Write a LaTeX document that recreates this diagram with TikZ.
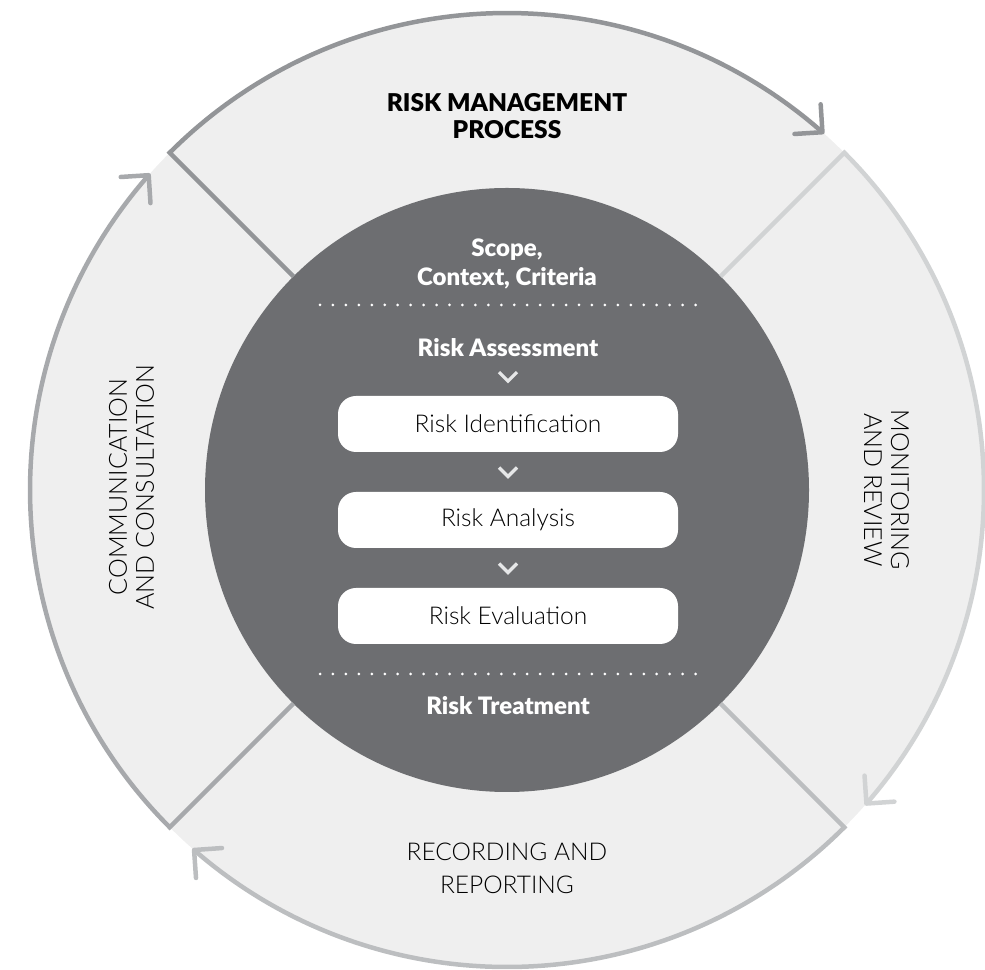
\documentclass[tikz,border=0pt]{standalone}
\usepackage{fontspec}
\setmainfont{Lato}
\IfFontExistsTF{Lato Light}{\newfontfamily\lightf{Lato Light}}{\newfontfamily\lightf{Lato}}
\IfFontExistsTF{Lato Black}{\newfontfamily\blackf{Lato Black}}{\newfontfamily\blackf{Lato}[UprightFont=*-Bold]}
\usetikzlibrary{calc}
\definecolor{ringfill}{HTML}{EFEFEF}
\definecolor{core}{HTML}{6D6E71}
\definecolor{ctop}{HTML}{939598}
\definecolor{cleft}{HTML}{A7A9AC}
\definecolor{cbot}{HTML}{BCBEC0}
\definecolor{cright}{HTML}{D1D3D4}
\definecolor{chevc}{HTML}{E6E7E8}
\tikzset{
  segline/.style={line width=4.5pt, line join=miter},
  tipline/.style={line width=4.5pt, line cap=round, line join=round},
  stepbox/.style={fill=white, rounded corners=18pt, minimum width=340pt, minimum height=56pt, inner sep=0pt,
    font=\lightf\fontsize{24.5}{28}\selectfont, text=black},
  corehead/.style={text=white, font=\blackf\fontsize{24}{29}\selectfont, align=center, inner sep=0pt},
  ringlabel/.style={text=black, font=\lightf\fontsize{25}{27}\selectfont, align=center, inner sep=0pt},
  dotline/.style={white, line width=3pt, line cap=round, dash pattern=on 0pt off 12.95pt},
  chev/.style={chevc, line width=3.2pt, line cap=butt, line join=miter}
}
\newcommand\ringseg[3]{% color, start angle, end angle
  \draw[segline,#1] ($(C)+(#2:302)$) -- ($(C)+(#2:477)$) arc[start angle=#2, end angle=#3, radius=477];
}
\newcommand\ringtip[4]{% color, tip angle, arm1 angle, arm2 angle
  \draw[tipline,#1] ($(C)+(#2:477)+(#3:28)$) -- ($(C)+(#2:477)$) -- ($(C)+(#2:477)+(#4:28)$);
}
\begin{document}
\begin{tikzpicture}[x=1pt,y=1pt]
\useasboundingbox (0,0) rectangle (985,969);
\coordinate (C) at (507,479);
\fill[ringfill] (C) circle[radius=477];
\fill[core] (C) circle[radius=302];
% ring segments
\ringseg{ctop}{135}{48.6}
\ringtip{ctop}{48.6}{93.6}{183.6}
\ringseg{cright}{45}{-41.1}
\ringtip{cright}{-41.1}{3.9}{93.9}
\ringseg{cbot}{-45}{-131}
\ringtip{cbot}{-131}{-86}{4}
\ringseg{cleft}{-135}{-221.3}
\ringtip{cleft}{138.7}{183.7}{273.7}
% ring labels
\node[text=black, font=\blackf\fontsize{24.5}{27}\selectfont, align=center, inner sep=0pt] (title) at (507,853) {RISK MANAGEMENT\\PROCESS};
\node[ringlabel, rotate=90] (comm) at (131.5,482) {COMMUNICATION\\AND CONSULTATION};
\node[ringlabel, rotate=-90] (mon) at (886.5,479) {MONITORING\\AND REVIEW};
\node[ringlabel, font=\lightf\fontsize{24.5}{33}\selectfont] (rec) at (507,100.5) {RECORDING AND\\REPORTING};
% core
\node[corehead] (scope) at (507,705.5) {Scope,\\Context, Criteria};
\coordinate (d1a) at (320,664);
\coordinate (d1b) at (699,664);
\draw[dotline] (d1a) -- (d1b);
\node[corehead] (assess) at (508,621) {Risk Assessment};
\node[stepbox] (ident) at (508,545) {Risk Identification};
\node[stepbox] (anal) at (508,449) {Risk Analysis};
\node[stepbox] (eval) at (508,353) {Risk Evaluation};
\coordinate (d2a) at (320,295);
\coordinate (d2b) at (699,295);
\draw[dotline] (d2a) -- (d2b);
\node[corehead] (treat) at (508,263) {Risk Treatment};
% chevrons
\foreach \a/\b in {assess/ident, ident/anal, anal/eval}{
  \coordinate (m) at ($(\a.south)!0.5!(\b.north)$);
  \draw[chev] ($(m)+(-9,4.5)$) -- ($(m)+(0,-4.5)$) -- ($(m)+(9,4.5)$);
}
\end{tikzpicture}
\end{document}
